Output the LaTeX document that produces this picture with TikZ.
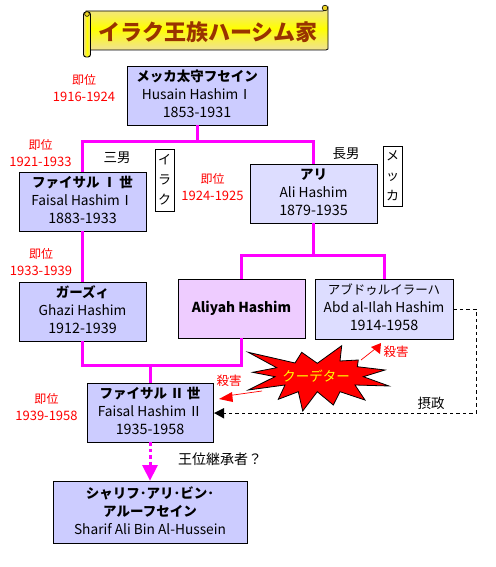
\documentclass[tikz,border=0pt]{standalone}
\usepackage{fontspec}
\setmainfont{Noto Sans CJK JP}
\definecolor{pmag}{RGB}{255,0,255}
\definecolor{pred}{RGB}{255,0,0}
\definecolor{pyel}{RGB}{255,255,0}
\definecolor{bA}{RGB}{204,204,255}
\definecolor{bB}{RGB}{221,221,255}
\definecolor{bC}{RGB}{238,204,255}
\definecolor{tan1}{RGB}{240,225,150}
\definecolor{tan2}{RGB}{235,215,150}
\definecolor{ttl}{RGB}{153,51,0}
\newcommand{\nm}[1]{{\fontsize{13.5}{18}\bfseries\selectfont #1}}
\newcommand{\kn}[1]{{\fontsize{12.5}{18}\selectfont #1}}
\newcommand{\ltn}[1]{{\fontsize{13.7}{18}\selectfont #1}}
\newcommand{\yr}[1]{{\fontsize{14.3}{18}\selectfont #1\rule[-3pt]{0pt}{3pt}}}
\newcommand{\ji}{{\fontsize{12}{17}\selectfont 即位}}
\newcommand{\rg}[1]{{\fontsize{13}{17}\selectfont #1}}
\begin{document}
\begin{tikzpicture}[x=1pt,y=-1pt,
  person/.style={draw=black,line width=0.9pt,inner sep=0pt,align=center,font=\fontsize{13}{18}\selectfont},
  royal/.style={person,fill=bA},
  pale/.style={person,fill=bB},
  link/.style={draw=pmag,line width=3pt},
  reign/.style={text=pred,align=center,font=\fontsize{13}{17}\selectfont,inner sep=0pt},
  note/.style={font=\fontsize{13.5}{16}\selectfont,inner sep=0pt},
  vbox/.style={draw=black,line width=0.9pt,fill=white,align=center,inner sep=0pt,font=\fontsize{13}{20}\selectfont},
  kill/.style={text=pred,font=\fontsize{12.5}{14}\selectfont,inner sep=0pt}]
\useasboundingbox (0,0) rectangle (495,567);
\fill[white] (0,0) rectangle (495,567);
% scroll
\shade[top color=tan1,bottom color=tan1,middle color=pyel,draw=black,line width=0.7pt]
 (86,11) -- (323,11) -- (328,7) -- (328,49) -- (326,50) -- (86,50) -- cycle;
\shade[left color=tan2,right color=tan2,middle color=pyel,draw=black,line width=0.9pt,rounded corners=2.5pt]
 (83.5,12) rectangle (90.5,57);
\fill[yellow!70!brown,draw=black,line width=0.6pt] (325,8) circle (2.8);
\fill[yellow!70!brown,draw=black,line width=0.6pt] (87,14) circle (2.4);
\node[inner sep=0pt,text=ttl,font=\bfseries\fontsize{22}{24}\selectfont] (title) at (208,32) {イラク王族ハーシム家};
% boxes
\node[royal,minimum width=140pt,minimum height=59pt] (husain) at (197,95.5) {\nm{メッカ太守フセイン}\\\ltn{Husain HashimⅠ}\\\yr{1853-1931}};
\node[royal,minimum width=127pt,minimum height=59pt] (faisal1) at (82.5,201.5) {\nm{ファイサル Ⅰ 世}\\\ltn{Faisal HashimⅠ}\\\yr{1883-1933}};
\node[pale,minimum width=127pt,minimum height=59pt] (ali) at (313.5,193.5) {\nm{アリ}\\\ltn{Ali Hashim}\\\yr{1879-1935}};
\node[person,fill=bC,minimum width=127pt,minimum height=59pt,font=\bfseries\fontsize{13.7}{18}\selectfont] (aliyah) at (241.5,308.5) {Aliyah Hashim};
\node[pale,minimum width=138pt,minimum height=60pt] (abd) at (384,309) {\kn{アブドゥルイラーハ}\\\ltn{Abd al-Ilah Hashim}\\\yr{1914-1958}};
\node[royal,minimum width=127pt,minimum height=59pt] (ghazi) at (82.5,311.5) {\nm{ガーズィ}\\\ltn{Ghazi Hashim}\\\yr{1912-1939}};
\node[royal,minimum width=126pt,minimum height=59pt] (faisal2) at (150,412.5) {\nm{ファイサル Ⅱ 世}\\\ltn{Faisal Hashim\,Ⅱ}\\\yr{1935-1958}};
\node[royal,minimum width=194pt,minimum height=62pt] (sharif) at (150,512) {\nm{シャリフ･アリ･ビン･}\\\nm{アルーフセイン}\\\ltn{Sharif Ali Bin Al-Hussein}\rule[-3pt]{0pt}{3pt}};
% magenta links
\coordinate (j1) at (husain.south |- 0,141);
\draw[link] (husain.south) -- (j1);
\draw[link,line join=miter] (faisal1.north) |- (j1) -| (ali.north);
\draw[link] (faisal1.south) -- (ghazi.north);
\coordinate (j2) at (ali.south |- 0,255);
\draw[link] (ali.south) -- (j2);
\draw[link] (aliyah.north) |- (j2) -| (abd.north);
\coordinate (j3) at (faisal2.north |- 0,365);
\draw[link] (ghazi.south) |- (j3) -| (aliyah.south);
\draw[link] (j3) -- (faisal2.north);
% succession
\coordinate (baseS) at (150,465);
\draw[draw=pmag,line width=3pt,dash pattern=on 3.5pt off 3pt] (faisal2.south) -- (baseS);
\fill[pmag] (142,465) -- (158,465) -- (sharif.north) -- cycle;
% regency
\coordinate (r1) at (476,309);
\coordinate (r2) at (476,413);
\coordinate (r3) at (224,413);
\draw[black,line width=0.8pt,dash pattern=on 3.5pt off 3pt] (abd.east) -- (r1) -- (r2) -- (r3);
\fill[black] (214,413) -- (224,408) -- (224,418.5) -- cycle;
% red arrows
\coordinate (k1) at (262,391);
\coordinate (k2) at (361,360);
\draw[pred,line width=0.7pt] (k1) -- (226,396);
\fill[pred] (219,399) -- (232,392) -- (233,402) -- cycle;
\draw[pred,line width=0.7pt] (k2) -- (375,349);
\fill[pred] (381,343) -- (380,354) -- (371,347) -- cycle;
% star
\draw[fill=pred,draw=black,line width=0.8pt] (248.3,352.3) -- (295,363) -- (301.7,352.3) -- (317.3,363.3) -- (341.7,345.7) -- (340,361) -- (358.3,360) -- (357.3,366.7) -- (385,370) -- (363.3,376.7) -- (389,386) -- (355,385) -- (365,400) -- (340,391.7) -- (333.3,405) -- (317.3,391.7) -- (302.7,411) -- (298.3,391.7) -- (278.3,399.3) -- (285,385) -- (248.3,390) -- (275,376.7) -- (252.7,372.3) -- (276.7,367.7) -- cycle;
\node[inner sep=0pt,text=pyel,font=\fontsize{13.5}{14}\selectfont] (coup) at (316,376) {クーデター};
\node[kill] (k1t) at (229,381) {殺害};
\node[kill] (k2t) at (396,352) {殺害};
% labels
\node[reign] (r0) at (84,88.5) {\ji\\\rg{1916-1924}};
\node[reign] (ra) at (40.5,153) {\ji\\\rg{1921-1933}};
\node[reign] (rb) at (41,262) {\ji\\\rg{1933-1939}};
\node[reign] (rc) at (212.5,187.5) {\ji\\\rg{1924-1925}};
\node[reign] (rd) at (46.5,407) {\ji\\\rg{1939-1958}};
\node[note] (n1) at (117,158) {三男};
\node[note] (n2) at (346,154) {長男};
\node[note] (n3) at (431,403) {摂政};
\node[note,anchor=west,font=\fontsize{14}{16}\selectfont] (n4) at (178,459) {王位継承者？};
\node[vbox,minimum width=19pt,minimum height=62pt] (iraq) at (164.5,180) {イ\\ラ\\ク};
\node[vbox,minimum width=19pt,minimum height=60pt] (mecca) at (392.5,176) {メ\\ッ\\カ};
\end{tikzpicture}
\end{document}
